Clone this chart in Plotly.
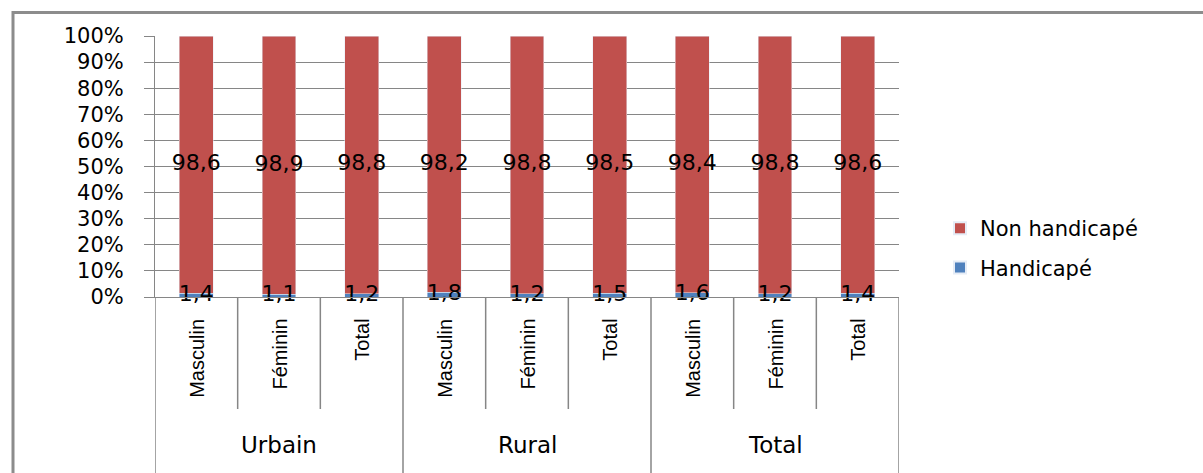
import plotly.graph_objects as go

# Two-level categories: place (outer) x sex (inner)
groups = ["Urbain", "Rural", "Total"]
sexes = ["Masculin", "Féminin", "Total"]

# Share of population (%) per category, in group order
handicape = [1.4, 1.1, 1.2, 1.8, 1.2, 1.5, 1.6, 1.2, 1.4]
non_handicape = [98.6, 98.9, 98.8, 98.2, 98.8, 98.5, 98.4, 98.8, 98.6]

y_ticks = list(range(0, 101, 10))

RED = "#C0504D"
BLUE = "#4F81BD"
GRID = "#868686"
FONT = "DejaVu Sans"
NARROW = "Liberation Sans, Arial, sans-serif"

n = len(handicape)
xs = list(range(n))


def fmt(v):
    return f"{v:.1f}".replace(".", ",")


fig = go.Figure()
fig.add_bar(
    x=xs, y=handicape, name="Handicapé", marker_color=BLUE,
    width=0.41, legendrank=2, legendgroup="h",
)
fig.add_bar(
    x=xs, y=non_handicape, name="Non handicapé", marker_color=RED,
    width=0.41, legendrank=1, legendgroup="n",
)

# value labels centred on each stacked segment
lab_x, lab_y, lab_t = [], [], []
for i in range(n):
    lab_x += [i, i]
    lab_y += [handicape[i] / 2, handicape[i] + non_handicape[i] / 2]
    lab_t += [fmt(handicape[i]), fmt(non_handicape[i])]
fig.add_scatter(
    x=lab_x, y=lab_y, text=lab_t, mode="text", showlegend=False,
    textposition="middle center", cliponaxis=False, hoverinfo="skip",
    textfont=dict(family=FONT, size=22, color="black"),
)

# Axis helpers in paper units (plot area size in px)
PLOT_H = 261.0
PLOT_W = 744.0


def py(px_below):
    return -px_below / PLOT_H


shapes = []
# category dividers below the axis
for k in range(n + 1):
    outer = k % len(sexes) == 0
    shapes.append(dict(
        type="line", xref="x", yref="paper", x0=k - 0.5, x1=k - 0.5,
        y0=0, y1=py(200) if outer else py(112),
        line=dict(color=GRID, width=1.5),
    ))
# outer frame
shapes.append(dict(
    type="rect", xref="paper", yref="paper",
    x0=-142 / PLOT_W, x1=1080 / PLOT_W, y0=py(200), y1=1 + 23.5 / PLOT_H,
    line=dict(color="#8C8C8C", width=3), fillcolor="rgba(0,0,0,0)", layer="below",
))

annotations = []
for i in range(n):
    annotations.append(dict(
        x=i, xref="x", y=py(20), yref="paper", text=sexes[i % len(sexes)],
        textangle=-90, showarrow=False, xanchor="center", yanchor="top",
        font=dict(family=NARROW, size=20, color="black"),
    ))
for g, name in enumerate(groups):
    annotations.append(dict(
        x=g * len(sexes) + (len(sexes) - 1) / 2, xref="x", y=py(148), yref="paper",
        text=name, showarrow=False, xanchor="center", yanchor="middle",
        font=dict(family=FONT, size=23, color="black"),
    ))

fig.update_layout(
    width=1203, height=473,
    margin=dict(l=155, r=304, t=36, b=176),
    paper_bgcolor="white", plot_bgcolor="white",
    barmode="stack", bargap=0.59,
    showlegend=True,
    legend=dict(
        x=(940 - 155) / PLOT_W, xanchor="left", y=1 - (208 - 36) / PLOT_H, yanchor="top",
        traceorder="grouped", tracegroupgap=9,
        font=dict(family=FONT, size=21, color="black"),
        bgcolor="rgba(0,0,0,0)",
        itemsizing="constant",
    ),
    xaxis=dict(
        range=[-0.5, n - 0.5], showticklabels=False, showgrid=False,
        zeroline=False, showline=True, linecolor=GRID, linewidth=1,
        fixedrange=True,
    ),
    yaxis=dict(
        range=[0, 100], tickvals=y_ticks, ticktext=[f"{v}%" for v in y_ticks],
        showgrid=True, gridcolor=GRID, gridwidth=1, zeroline=False,
        showline=True, linecolor=GRID, linewidth=1,
        ticks="outside", ticklen=10, tickcolor=GRID,
        ticklabelstandoff=16,
        tickfont=dict(family=FONT, size=21, color="black"),
        fixedrange=True,
    ),
    shapes=shapes,
    annotations=annotations,
)

fig.write_html("out.html")
